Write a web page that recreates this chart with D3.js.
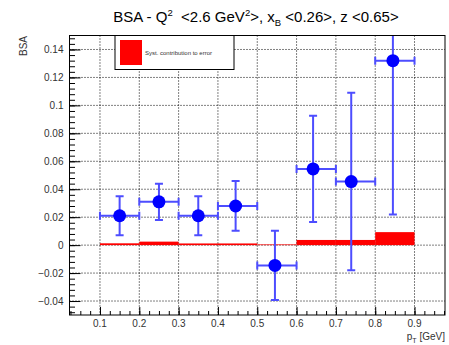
<!DOCTYPE html>
<html>
<head>
<meta charset="utf-8">
<script src="https://cdn.jsdelivr.net/npm/d3@7"></script>
<style>
  body { margin: 0; background: #fff; }
  text { font-family: "Liberation Sans", Arial, sans-serif; white-space: pre; }
</style>
</head>
<body>
<div id="chart"></div>
<script>
// data
const pT = [0.15, 0.25, 0.35, 0.445, 0.545, 0.642, 0.739, 0.845];
const binLow = [0.1, 0.2, 0.3, 0.4, 0.5, 0.6, 0.7, 0.8];
const binHigh = [0.2, 0.3, 0.4, 0.5, 0.6, 0.7, 0.8, 0.9];
const bsa = [0.021, 0.031, 0.021, 0.028, -0.0145, 0.0545, 0.0455, 0.132];
const bsaErr = [0.014, 0.013, 0.014, 0.0178, 0.0248, 0.038, 0.0635, 0.11];
const systErr = [0.0013, 0.0025, 0.0012, 0.0012, 0.0005, 0.0037, 0.0037, 0.0093];
const xTicks = [0.1, 0.2, 0.3, 0.4, 0.5, 0.6, 0.7, 0.8, 0.9];
const yTicks = [-0.04, -0.02, 0, 0.02, 0.04, 0.06, 0.08, 0.1, 0.12, 0.14];

const W = 449, H = 345;
const margin = { top: 35.5, right: 4, bottom: 30, left: 69.5 };
const width = W - margin.left - margin.right;
const height = H - margin.top - margin.bottom;

const x = d3.scaleLinear().domain([0.0225, 0.9775]).range([0, width]);
const y = d3.scaleLinear().domain([-0.05, 0.15]).range([height, 0]);

const svg = d3.select("#chart").append("svg")
  .attr("width", W).attr("height", H);

const g = svg.append("g")
  .attr("transform", "translate(" + margin.left + "," + margin.top + ")");

g.append("clipPath").attr("id", "clip")
  .append("rect").attr("width", width).attr("height", height);

// grid
g.selectAll(".gx").data(xTicks).enter().append("line")
  .attr("x1", d => x(d)).attr("x2", d => x(d))
  .attr("y1", 0).attr("y2", height)
  .attr("stroke", "#000").attr("stroke-width", 1).attr("stroke-dasharray", "1,2");
g.selectAll(".gy").data(yTicks).enter().append("line")
  .attr("x1", 0).attr("x2", width)
  .attr("y1", d => y(d)).attr("y2", d => y(d))
  .attr("stroke", "#000").attr("stroke-width", 1).attr("stroke-dasharray", "1,2");

// axes (ticks pointing inward)
const xMinor = d3.range(0.025, 0.976, 0.025);
const yMinor = d3.range(-0.048, 0.1501, 0.004);

g.append("g").attr("transform", "translate(0," + height + ")")
  .call(d3.axisTop(x).tickValues(xMinor).tickSize(4).tickFormat(""))
  .call(a => a.select(".domain").remove());
g.append("g").attr("transform", "translate(0," + height + ")")
  .call(d3.axisTop(x).tickValues(xTicks).tickSize(8).tickFormat(""))
  .call(a => a.select(".domain").remove());
g.append("g")
  .call(d3.axisRight(y).tickValues(yMinor).tickSize(5.5).tickFormat(""))
  .call(a => a.select(".domain").remove());
g.append("g")
  .call(d3.axisRight(y).tickValues(yTicks).tickSize(11).tickFormat(""))
  .call(a => a.select(".domain").remove());

// tick labels
const fmt = d => d === 0 ? "0" : (d < 0 ? "\u2212" : "") + String(Math.abs(+d.toFixed(2)));
g.selectAll(".xl").data(xTicks).enter().append("text")
  .attr("x", d => x(d)).attr("y", height + 12)
  .attr("text-anchor", "middle").attr("font-size", 10).attr("fill", "#333")
  .text(d => String(d));
g.selectAll(".yl").data(yTicks).enter().append("text")
  .attr("x", -6).attr("y", d => y(d) + 3.5)
  .attr("text-anchor", "end").attr("font-size", 10).attr("fill", "#333")
  .text(fmt);

// systematic bars
g.selectAll(".syst").data(systErr).enter().append("rect")
  .attr("x", (d, i) => x(binLow[i]))
  .attr("width", (d, i) => x(binHigh[i]) - x(binLow[i]))
  .attr("y", d => y(d))
  .attr("height", d => y(0) - y(d))
  .attr("fill", "#ff0000");

// points with error bars
const pts = g.append("g").attr("clip-path", "url(#clip)");
const eb = "#4d4dff";
pT.forEach((px, i) => {
  const cy = y(bsa[i]);
  pts.append("line").attr("x1", x(binLow[i])).attr("x2", x(binHigh[i]))
    .attr("y1", cy).attr("y2", cy).attr("stroke", eb).attr("stroke-width", 2);
  pts.append("line").attr("x1", x(px)).attr("x2", x(px))
    .attr("y1", y(bsa[i] - bsaErr[i])).attr("y2", y(bsa[i] + bsaErr[i]))
    .attr("stroke", eb).attr("stroke-width", 2);
  [binLow[i], binHigh[i]].forEach(v => {
    pts.append("line").attr("x1", x(v)).attr("x2", x(v))
      .attr("y1", cy - 4).attr("y2", cy + 4).attr("stroke", eb).attr("stroke-width", 2);
  });
  [bsa[i] - bsaErr[i], bsa[i] + bsaErr[i]].forEach(v => {
    pts.append("line").attr("x1", x(px) - 4).attr("x2", x(px) + 4)
      .attr("y1", y(v)).attr("y2", y(v)).attr("stroke", eb).attr("stroke-width", 2);
  });
  pts.append("circle").attr("cx", x(px)).attr("cy", cy).attr("r", 6.5).attr("fill", "#0000ff");
});

// frame
g.append("rect").attr("width", width).attr("height", height)
  .attr("fill", "none").attr("stroke", "#000").attr("stroke-width", 1);

// legend
const leg = svg.append("g");
leg.append("rect").attr("x", 115).attr("y", 35.5).attr("width", 119).attr("height", 34)
  .attr("fill", "#fff").attr("stroke", "#000").attr("stroke-width", 1);
leg.append("rect").attr("x", 120).attr("y", 40).attr("width", 22).attr("height", 25)
  .attr("fill", "#ff0000");
leg.append("text").attr("x", 145).attr("y", 55).attr("font-size", 6).attr("fill", "#333")
  .text("Syst. contribution to error");

// title
const t = svg.append("text").attr("x", 256).attr("y", 22)
  .attr("text-anchor", "middle").attr("font-size", 15).attr("fill", "#000");
t.append("tspan").text("BSA - Q");
t.append("tspan").attr("font-size", 9.5).attr("dy", -6).text("2");
t.append("tspan").attr("dy", 6).text("  <2.6 GeV");
t.append("tspan").attr("font-size", 9.5).attr("dy", -6).text("2");
t.append("tspan").attr("dy", 6).text(">, x");
t.append("tspan").attr("font-size", 9.5).attr("dy", 4).text("B");
t.append("tspan").attr("dy", -4).text(" <0.26>, z <0.65>");

// axis titles
svg.append("text").attr("transform", "translate(27,36) rotate(-90)")
  .attr("text-anchor", "end").attr("font-size", 10).attr("fill", "#333").text("BSA");
const xt = svg.append("text").attr("x", 445).attr("y", 340)
  .attr("text-anchor", "end").attr("font-size", 10).attr("fill", "#333");
xt.append("tspan").text("p");
xt.append("tspan").attr("font-size", 7).attr("dy", 3).text("T");
xt.append("tspan").attr("dy", -3).text(" [GeV]");
</script>
</body>
</html>
